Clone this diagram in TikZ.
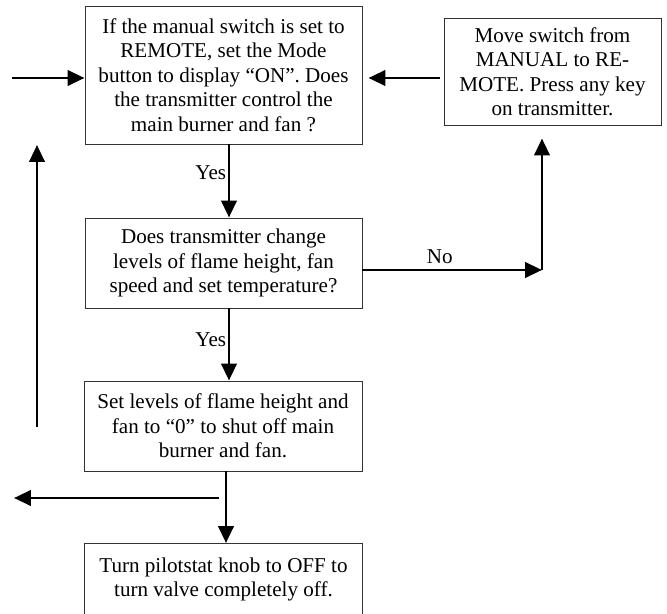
\documentclass[tikz,border=0pt]{standalone}
\usepackage{fontspec}
\setmainfont{Liberation Serif}
\usetikzlibrary{shapes,arrows.meta,positioning}

\begin{document}
\begin{tikzpicture}[
        stepbox/.style={draw=black!80,line width=0.7pt,align=center,inner sep=0pt,minimum width=6.925cm,minimum height=2.25cm},
        flow/.style={line width=2.1pt,-{Triangle[length=0.42cm,width=0.38cm]}},
        font=\fontsize{15}{17.4}\selectfont]
        \useasboundingbox (0,0) rectangle (16.675,15.35);

        % Boxes
        \node[stepbox,minimum height=3.45cm] (q1) at (5.5875,13.475) {If the manual switch is set to\\ REMOTE, set the Mode\\ button to display “ON”. Does\\ the transmitter control the\\ main burner and fan ?};
        \node[stepbox,minimum width=5.425cm,minimum height=2.675cm] (move) at (13.8125,13.5625) {Move switch from\\ MANUAL to RE-\\ MOTE. Press any key\\ on transmitter.};
        \node[stepbox] (q2) at (5.5875,8.775) {Does transmitter change\\ levels of flame height, fan\\ speed and set temperature?};
        \node[stepbox,minimum width=6.95cm] (set) at (5.575,4.7) {Set levels of flame height and\\ fan to “0” to shut off main\\ burner and fan.};
        \node[align=center,anchor=north,minimum width=6.925cm,inner xsep=0pt,inner ysep=0.36cm] (off) at (5.5875,1.775) {Turn pilotstat knob to OFF to\\ turn valve completely off.};
        \coordinate (base) at (0,0);
        \draw[draw=black!80,line width=0.7pt] (off.north west |- base) -- (off.north west) -- (off.north east) -- (off.north east |- base);

        % Free ends
        \coordinate (in1) at (0.3,13.4);
        \coordinate (loopbot) at (0.925,4.675);
        \coordinate (looptop) at (0.925,11.725);
        \coordinate (nocorner) at (13.55,8.6);
        \coordinate (exitstart) at (5.475,2.9);
        \coordinate (exitend) at (0.35,2.9);

        % Connectors
        \draw[flow] (in1) -- (in1 -| q1.west);
        \draw[flow,shorten >=0.15cm,shorten <=0.1cm] (move.west |- in1) -- (q1.east |- in1);
        \draw[flow] (loopbot) -- (looptop);
        \draw[flow] ([xshift=0.1375cm]q1.south) -- node[left,pos=0.38,inner xsep=1pt] {Yes} ([xshift=0.1375cm]q2.north);
        \draw[flow] (q2.east |- nocorner) -- node[above,pos=0.43] {No} (nocorner);
        \draw[flow,shorten >=0.325cm] (nocorner) -- (nocorner |- move.south);
        \draw[flow] ([xshift=0.1375cm]q2.south) -- node[left,pos=0.44,inner xsep=1pt] {Yes} ([xshift=0.15cm]set.north);
        \draw[flow] ([xshift=0.075cm]set.south) -- ([xshift=0.0625cm]off.north);
        \draw[flow] (exitstart) -- (exitend);
    \end{tikzpicture}
\end{document}
